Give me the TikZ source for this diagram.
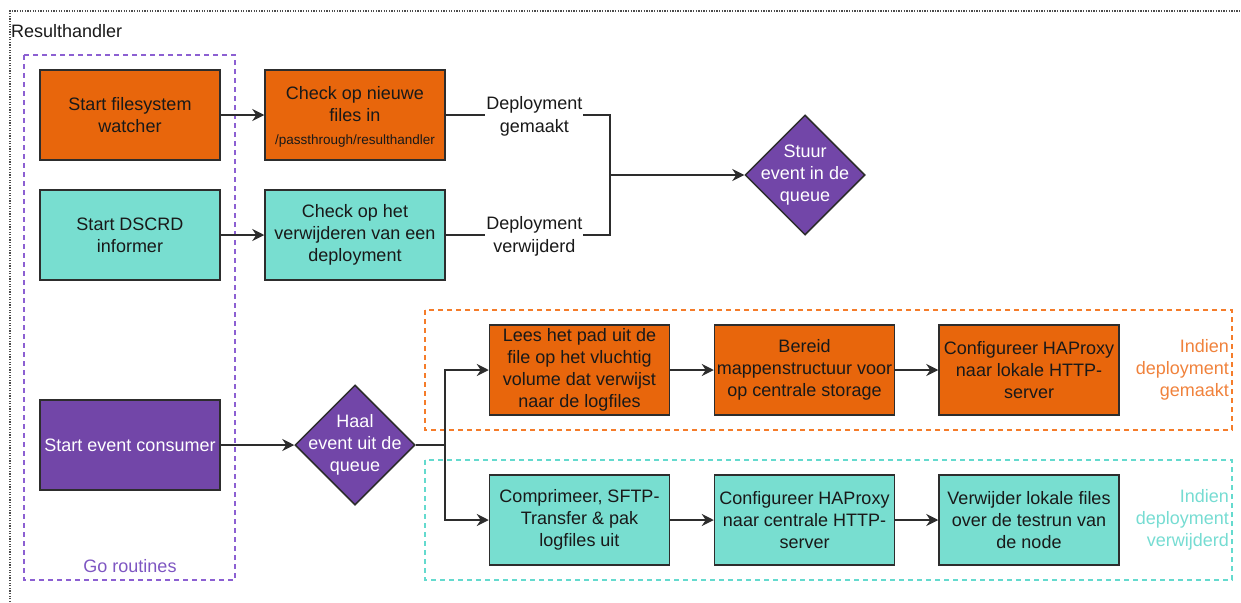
\documentclass[tikz,border=0pt]{standalone}
\usepackage{fontspec}
\setmainfont{Liberation Sans}
\usetikzlibrary{shapes.geometric,arrows.meta}

\definecolor{orangefill}{RGB}{232,102,12}
\definecolor{tealfill}{RGB}{120,222,208}
\definecolor{purplefill}{RGB}{114,70,168}
\definecolor{boxline}{RGB}{45,45,45}
\definecolor{purpledash}{RGB}{140,96,210}
\definecolor{orangedash}{RGB}{245,124,42}
\definecolor{tealdash}{RGB}{100,218,206}
\definecolor{orangetext}{RGB}{240,130,60}
\definecolor{tealtext}{RGB}{118,220,210}
\definecolor{purpletext}{RGB}{126,86,194}

\tikzset{
  txt/.style={font=\fontsize{18}{21.8}\selectfont, align=center, text=black!90},
  procbox/.style={txt, draw=boxline, line width=1.5pt, minimum width=180pt, minimum height=90pt, inner sep=0pt},
  orangebox/.style={procbox, fill=orangefill},
  tealbox/.style={procbox, fill=tealfill},
  purplebox/.style={procbox, fill=purplefill, text=white},
  decision/.style={diamond, draw=boxline, line width=1.5pt, fill=purplefill, minimum width=120pt, minimum height=120pt, inner sep=0pt},
  dectext/.style={txt, text=white},
  conn/.style={draw=boxline, line width=1.5pt},
  arrow/.style={conn, -{Stealth[length=12pt,width=12pt,inset=4pt]}},
  elabel/.style={txt, font=\fontsize{18}{23}\selectfont, fill=white, inner sep=1pt},
  groupframe/.style={line width=1.5pt, dash pattern=on 5pt off 4pt},
}

\begin{document}
\begin{tikzpicture}[x=1pt,y=-1pt]
\useasboundingbox (0,0) rectangle (1241,602);

% outer container
\draw[black!70, line width=1.3pt, dash pattern=on 1.3pt off 1.3pt] (10,602) -- (10,11) -- (1241,11);
\node[txt, anchor=west, inner sep=0pt] (title) at (11,31) {Resulthandler};

% group frames
\draw[groupframe, draw=purpledash] (24,55) rectangle (235,580);
\node[txt, text=purpletext] (golabel) at (130,566) {Go routines};
\draw[groupframe, draw=orangedash] (425,310) rectangle (1232,430);
\draw[groupframe, draw=tealdash] (425,460) rectangle (1232,580);

% start routines
\node[orangebox] (fsw) at (130,115) {Start filesystem\\watcher};
\node[tealbox] (inf) at (130,235) {Start DSCRD\\informer};
\node[purplebox] (cons) at (130,445) {Start event consumer};

% watchers
\node[orangebox] (cf) at (355,115) {};
\node[txt] (cftxt) at (355,117) {Check op nieuwe\\files in\\[2pt]{\fontsize{13.5}{16}\selectfont /passthrough/resulthandler}};
\node[tealbox] (cv) at (355,235) {Check op het\\verwijderen van een\\deployment};

% queue decisions
\node[decision] (stuur) at (805,175) {};
\node[dectext] (stuurtxt) at (stuur) {Stuur\\event in de\\queue};
\node[decision] (haal) at (355,445) {};
\node[dectext] (haaltxt) at (haal) {Haal\\event uit de\\queue};

% deployment created
\node[orangebox] (lees) at (579.5,370) {Lees het pad uit de\\file op het vluchtig\\volume dat verwijst\\naar de logfiles};
\node[orangebox] (bereid) at (804.5,370) {Bereid\\mappenstructuur voor\\op centrale storage};
\node[orangebox] (lokaal) at (1029,370) {Configureer HAProxy\\naar lokale HTTP-\\server};
\node[txt, text=orangetext, anchor=east, align=right, inner sep=0pt] (gemaakt) at (1229,370) {Indien\\deployment\\gemaakt};

% deployment removed
\node[tealbox] (comp) at (579.5,520) {Comprimeer, SFTP-\\Transfer \& pak\\logfiles uit};
\node[tealbox] (centraal) at (804.5,520) {Configureer HAProxy\\naar centrale HTTP-\\server};
\node[tealbox] (verw) at (1029,520) {Verwijder lokale files\\over de testrun van\\de node};
\node[txt, text=tealtext, anchor=east, align=right, inner sep=0pt] (verwijderd) at (1229,520) {Indien\\deployment\\verwijderd};

% connectors
\coordinate (join) at (610,175);
\coordinate (split) at (445,445);

\draw[arrow] (fsw) -- (cf);
\draw[arrow] (inf) -- (cv);
\draw[arrow] (cons) -- (haal);

\draw[conn] (cf.east) -- node[elabel, pos=0.54, yshift=-1.5pt] {Deployment\\gemaakt} (cf.east -| join) -- (cv.east -| join)
  -- node[elabel, pos=0.46, yshift=-1.5pt] {Deployment\\verwijderd} (cv.east);
\draw[arrow] (join) -- (stuur.west);

\draw[conn] (haal.east) -- (split);
\draw[arrow] (split) |- (lees.west);
\draw[arrow] (split) |- (comp.west);
\draw[arrow] (lees) -- (bereid);
\draw[arrow] (bereid) -- (lokaal);
\draw[arrow] (comp) -- (centraal);
\draw[arrow] (centraal) -- (verw);
\end{tikzpicture}
\end{document}
